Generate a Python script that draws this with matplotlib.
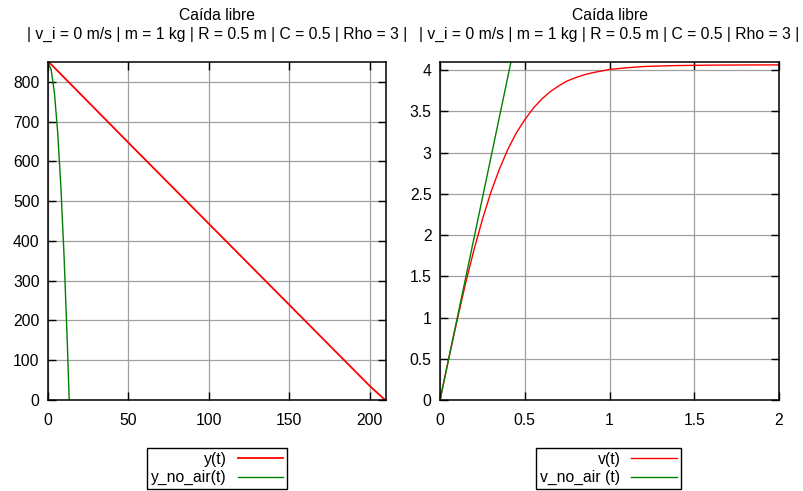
import numpy as np
import matplotlib.pyplot as plt

plt.rcParams['font.family'] = ['Liberation Sans', 'DejaVu Sans']

# Datos
t_pos = [0, 1, 2, 50, 100, 150, 200, 209.5]
y_pos = [850, 848, 844, 647, 443, 239, 35, 0]

t_pos_noair = [0, 2, 4, 6, 8, 10, 12, 13.17]
y_pos_noair = [850, 830, 772, 674, 536, 360, 144, 0]

t_vel = [0, 0.05, 0.1, 0.15, 0.2, 0.25, 0.3, 0.35, 0.4, 0.45, 0.5, 0.55,
         0.6, 0.65, 0.7, 0.75, 0.8, 0.85, 0.9, 0.95, 1.0, 1.05, 1.1, 1.2,
         1.3, 1.4, 1.6, 1.8, 2.0]
v_vel = [0, 0.49, 0.96, 1.41, 1.82, 2.19, 2.52, 2.80, 3.04, 3.24, 3.40, 3.54,
         3.65, 3.74, 3.81, 3.87, 3.91, 3.945, 3.97, 3.99, 4.01, 4.02, 4.03,
         4.045, 4.052, 4.057, 4.062, 4.064, 4.065]

t_vel_noair = [0, 0.5]
v_vel_noair = [0, 4.9]

titulo = "Caída libre\n| v_i = 0 m/s | m = 1 kg | R = 0.5 m | C = 0.5 | Rho = 3 |"
RED = '#ff0000'
GREEN = '#008000'

fig = plt.figure(figsize=(8.04, 4.91), dpi=100)
ax1 = fig.add_axes([0.0597, 0.1853, 0.4204, 0.6884])
ax2 = fig.add_axes([0.5473, 0.1853, 0.4216, 0.6884])


def estilo(ax):
    ax.grid(True, color='#a0a0a0', linewidth=0.9)
    ax.set_axisbelow(True)
    ax.tick_params(direction='in', length=6, width=1, top=True, right=True,
                   labelsize=11.3, pad=6, color='black')
    ax.tick_params(axis='x', pad=9)
    for s in ax.spines.values():
        s.set_linewidth(1.1)
    ax.set_title(titulo, fontsize=11.3, pad=17, linespacing=1.25)


ax1.plot(t_pos, y_pos, color=RED, lw=1.3, label='y(t)')
ax1.plot(t_pos_noair, y_pos_noair, color=GREEN, lw=1.0, label='y_no_air(t)')
ax1.set_xlim(0, 210)
ax1.set_ylim(0, 850)
ax1.set_xticks([0, 50, 100, 150, 200])
ax1.set_yticks(range(0, 801, 100))
estilo(ax1)

ax2.plot(t_vel, v_vel, color=RED, lw=1.0, label='v(t)')
ax2.plot(t_vel_noair, v_vel_noair, color=GREEN, lw=1.0, label='v_no_air (t)')
ax2.set_xlim(0, 2)
ax2.set_ylim(0, 4.1)
ax2.set_xticks([0, 0.5, 1, 1.5, 2])
ax2.set_xticklabels(['0', '0.5', '1', '1.5', '2'])
ax2.set_yticks([0, 0.5, 1, 1.5, 2, 2.5, 3, 3.5, 4])
ax2.set_yticklabels(['0', '0.5', '1', '1.5', '2', '2.5', '3', '3.5', '4'])
estilo(ax2)

# Leyendas debajo de cada grafica
for ax, cx in [(ax1, 0.27), (ax2, 0.757)]:
    leg = ax.legend(loc='upper center', bbox_to_anchor=(cx, 1 - 448 / 491),
                    bbox_transform=fig.transFigure, borderaxespad=0,
                    markerfirst=False, alignment='right', fontsize=11.3,
                    fancybox=False, framealpha=1, edgecolor='black',
                    handlelength=2.9, borderpad=0.25, labelspacing=0.2,
                    handletextpad=0.7)
    leg.get_frame().set_linewidth(1.0)
    for t in leg.get_texts():
        t.set_ha('right')

fig.savefig('out.png', dpi=100)
